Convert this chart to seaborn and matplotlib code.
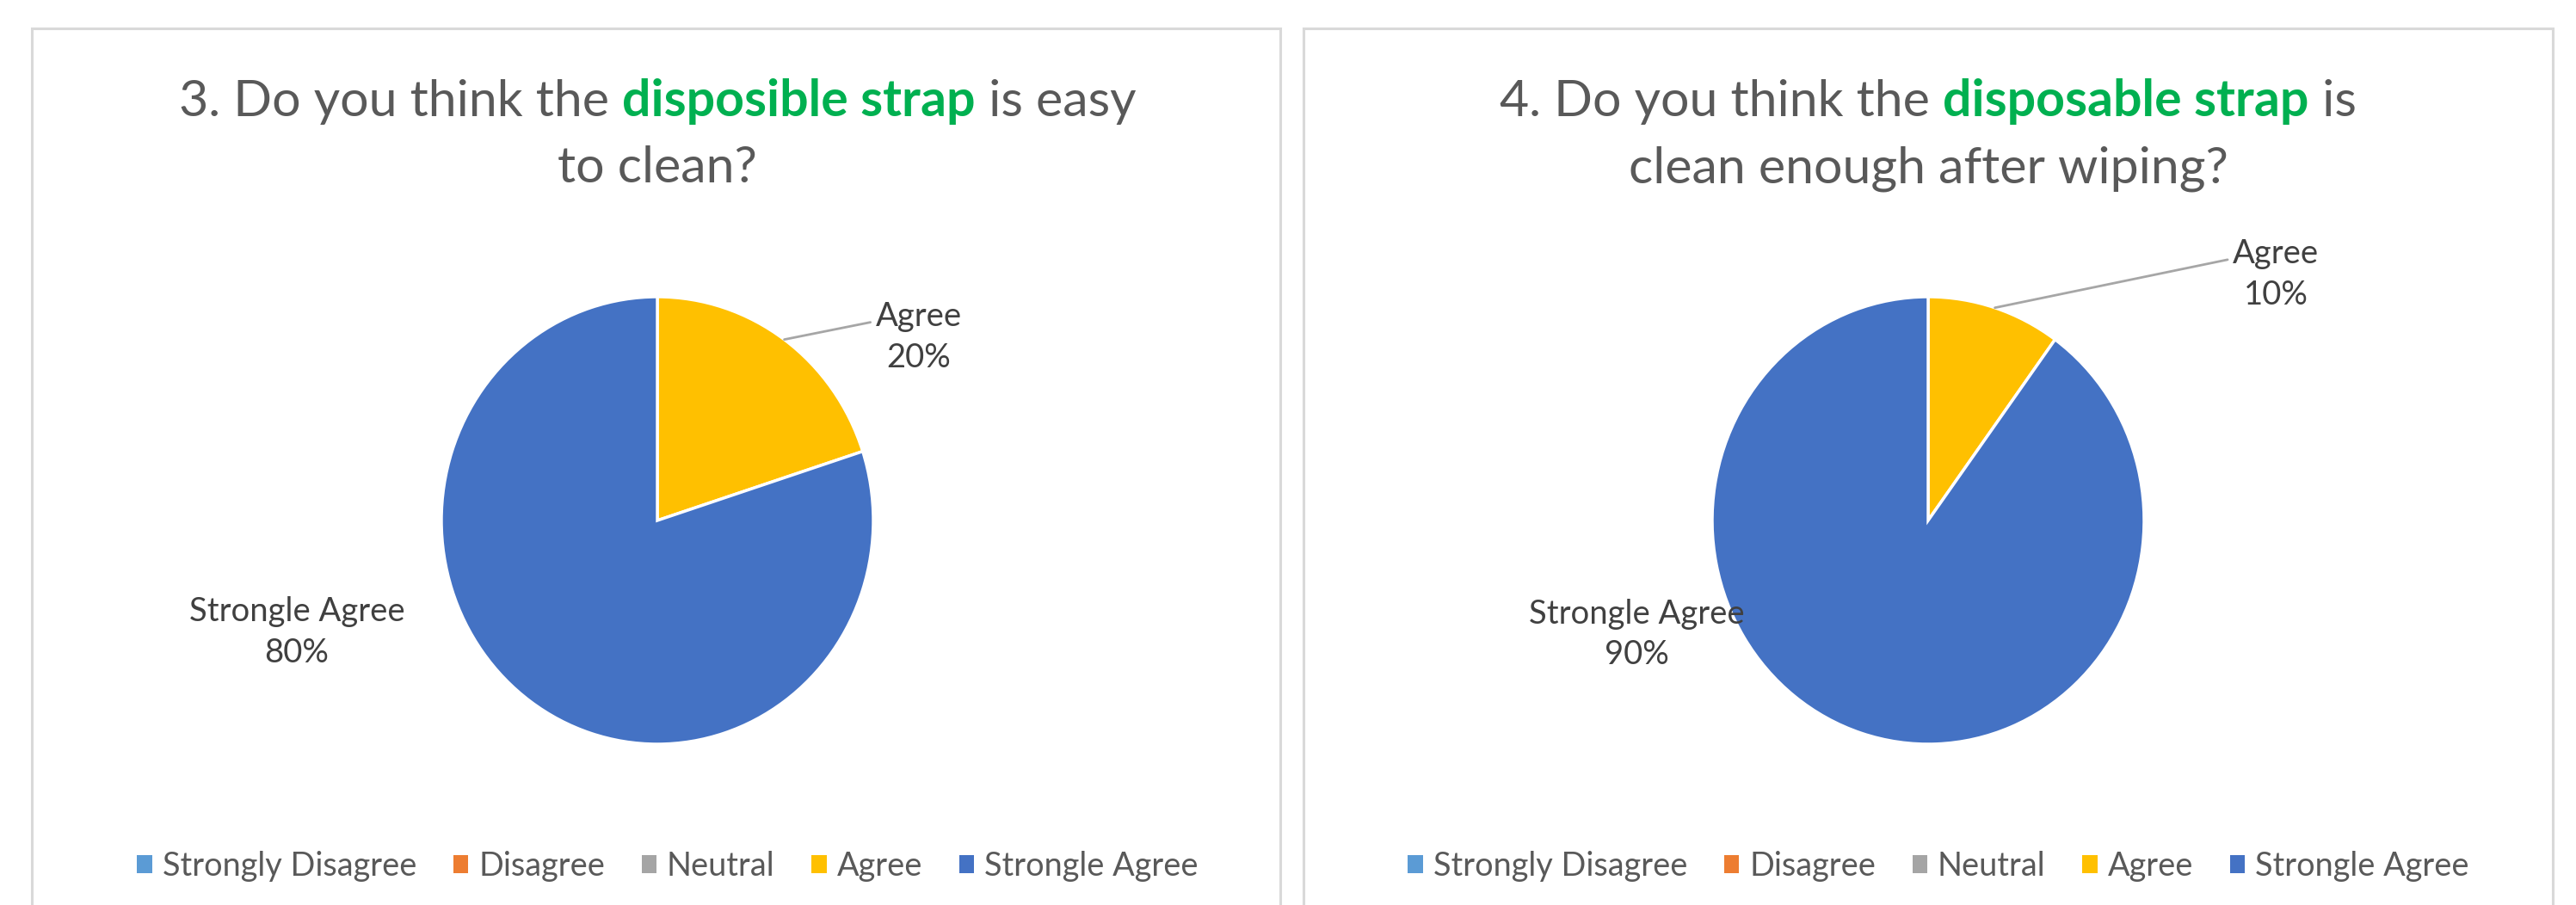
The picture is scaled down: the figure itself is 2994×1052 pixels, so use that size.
import numpy as np
import matplotlib
matplotlib.use("Agg")
import matplotlib.pyplot as plt
import seaborn as sns
from matplotlib.patches import Rectangle, Patch

sns.set_theme(style="white")
plt.rcParams['font.family'] = ['Lato', 'DejaVu Sans']

# data
categories = ["Strongly Disagree", "Disagree", "Neutral", "Agree", "Strongle Agree"]
q3_values = [0, 0, 0, 20, 80]
q4_values = [0, 0, 0, 10, 90]
palette = sns.color_palette(["#5B9BD5", "#ED7D31", "#A5A5A5", "#FFC000", "#4472C4"])

q3_title = [("3. Do you think the ", "#595959", "normal"),
            ("disposible strap", "#00B050", "bold"),
            (" is easy", "#595959", "normal")]
q3_title2 = "to clean?"
q4_title = [("4. Do you think the ", "#595959", "normal"),
            ("disposable strap", "#00B050", "bold"),
            (" is", "#595959", "normal")]
q4_title2 = "clean enough after wiping?"

W, H = 2994, 1052
fig = plt.figure(figsize=(W / 100, H / 100), dpi=100)
renderer = fig.canvas.get_renderer()

TITLE_SIZE = 42.5
LABEL_SIZE = 27.5
LEGEND_SIZE = 27.3
RX, RY, CY = 251, 260, 605


def rich_line(parts, cx, y):
    texts = [fig.text(0, 1 - y / H, s, color=c, fontweight=w, fontsize=TITLE_SIZE,
                      ha='left', va='baseline') for s, c, w in parts]
    widths = [t.get_window_extent(renderer).width for t in texts]
    x = cx - sum(widths) / 2
    for t, w in zip(texts, widths):
        t.set_x(x / W)
        x += w


def panel(x0, x1, cx, title, title2, values, agree_xy, strong_xy):
    # chart frame
    fig.patches.append(Rectangle((x0 / W, -0.1), (x1 - x0) / W, 1.1 - 33 / H,
                                 transform=fig.transFigure, fill=False,
                                 ec="#D9D9D9", lw=2.2))
    rich_line(title, cx, 135)
    fig.text(cx / W, 1 - 212 / H, title2, color="#595959", fontsize=TITLE_SIZE,
             ha='center', va='baseline')

    ax = fig.add_axes([(cx - RX) / W, 1 - (CY + RY) / H, 2 * RX / W, 2 * RY / H])
    wedges, _ = ax.pie(values, colors=palette, startangle=90, counterclock=False,
                       wedgeprops=dict(edgecolor="white", linewidth=2.5))
    ax.set_aspect('auto')
    ax.set_xlim(-1, 1)
    ax.set_ylim(-1, 1)

    total = sum(values)
    for wedge, cat, v in zip(wedges, categories, values):
        if v == 0:
            continue
        txt = f"{cat}\n{v / total:.0%}"
        mid = np.deg2rad((wedge.theta1 + wedge.theta2) / 2)
        if cat == "Agree":
            ax.annotate(txt, xy=(np.cos(mid), np.sin(mid)), xytext=agree_xy,
                        ha='center', va='center', fontsize=LABEL_SIZE, color="#404040",
                        linespacing=1.4, annotation_clip=False,
                        arrowprops=dict(arrowstyle='-', color="#A6A6A6", lw=2,
                                        shrinkA=2, shrinkB=0, relpos=(0, 0.72)))
        else:
            ax.text(*strong_xy, txt, ha='center', va='center', fontsize=LABEL_SIZE,
                    color="#404040", linespacing=1.4, clip_on=False)

    handles = [Patch(facecolor=c, edgecolor='none') for c in palette]
    leg = ax.legend(handles, categories, loc='center', ncol=5, frameon=False,
                    bbox_to_anchor=((cx + 12) / W, 1 - 1007 / H),
                    bbox_transform=fig.transFigure,
                    fontsize=LEGEND_SIZE, handlelength=0.45, handleheight=0.45,
                    handletextpad=0.32, columnspacing=1.13)
    for t in leg.get_texts():
        t.set_color("#595959")


panel(37, 1488, 764, q3_title, q3_title2, q3_values, (1.21, 0.82), (-1.67, -0.50))
panel(1515, 2967, 2241, q4_title, q4_title2, q4_values, (1.61, 1.10), (-1.35, -0.51))

fig.savefig("out.png", dpi=100, facecolor="white")
